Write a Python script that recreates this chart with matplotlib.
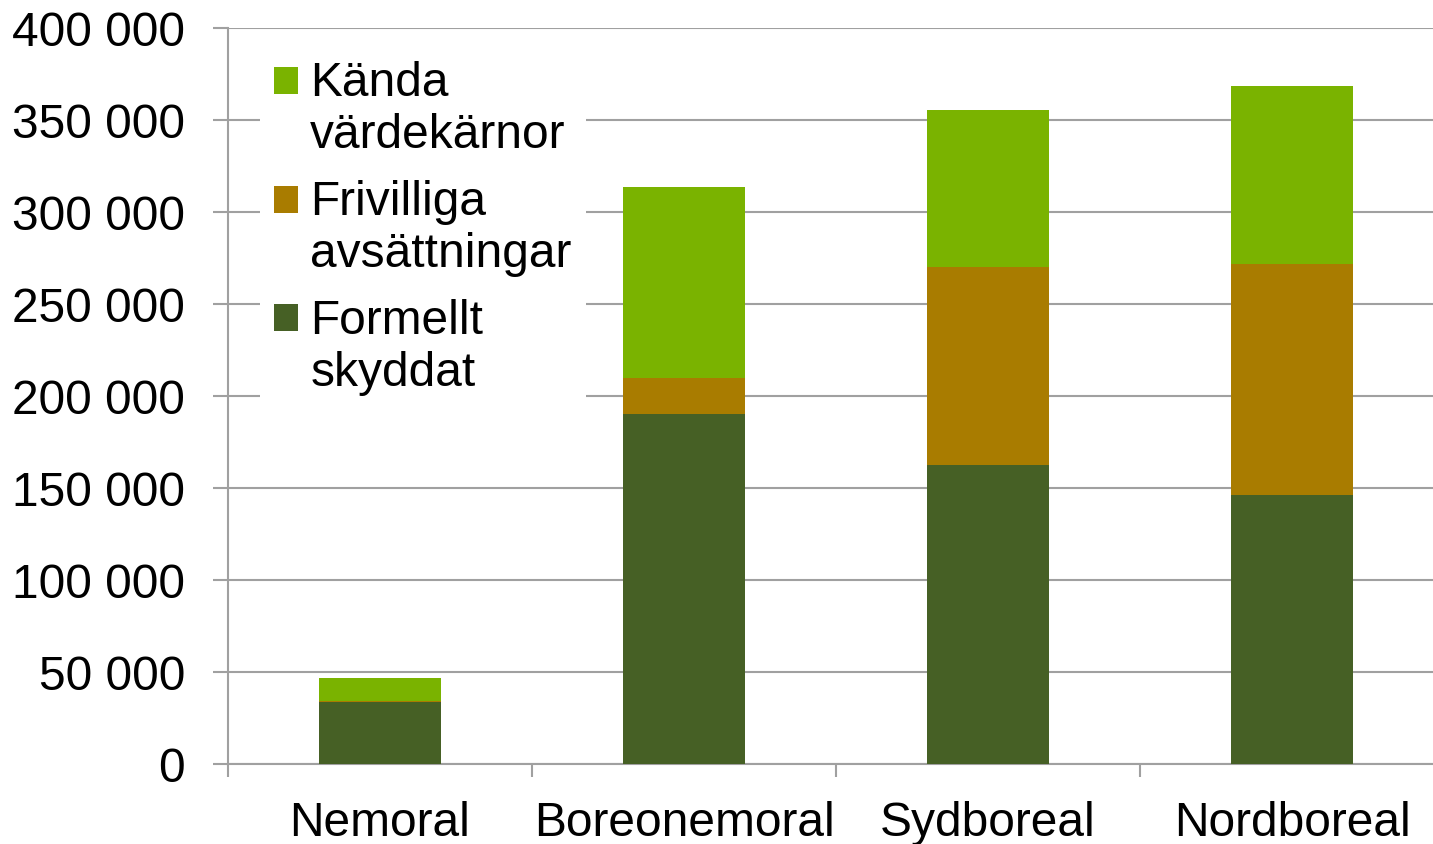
import numpy as np
import matplotlib
matplotlib.use('Agg')
import matplotlib.pyplot as plt
from matplotlib.ticker import FuncFormatter
from matplotlib.patches import Rectangle
from matplotlib.container import BarContainer
from matplotlib.legend_handler import HandlerPatch, update_from_first_child

categories = ['Nemoral', 'Boreonemoral', 'Sydboreal', 'Nordboreal']
formellt = [33700, 190200, 162500, 146200]
frivilliga = [600, 19600, 107600, 125500]
kanda = [12400, 103800, 85300, 96800]

c_formellt = '#466025'
c_frivilliga = '#A97C00'
c_kanda = '#7AB300'

plt.rcParams['font.family'] = ['Liberation Sans', 'DejaVu Sans']
FS = 34.5

fig = plt.figure(figsize=(14.33, 8.45), dpi=100)
ax = fig.add_axes([228 / 1433, 1 - 765 / 845, 1216 / 1433, 736 / 845])

x = np.arange(len(categories))
w = 0.4
formellt = np.array(formellt)
frivilliga = np.array(frivilliga)
kanda = np.array(kanda)

ax.bar(x, formellt, w, color=c_formellt, label='Formellt\nskyddat', zorder=3)
ax.bar(x, frivilliga, w, bottom=formellt, color=c_frivilliga,
       label='Frivilliga\navsättningar', zorder=3)
ax.bar(x, kanda, w, bottom=formellt + frivilliga, color=c_kanda,
       label='Kända\nvärdekärnor', zorder=3)

ax.set_xlim(-0.5, 3.5)
ax.set_ylim(0, 400000)
ax.set_yticks(np.arange(0, 400001, 50000))
ax.yaxis.set_major_formatter(FuncFormatter(lambda v, p: f'{int(v):,}'.replace(',', ' ')))
ax.yaxis.grid(True, color='#A0A0A0', lw=1.5, zorder=0)

# category ticks between bars, labels centered
ax.set_xticks(np.arange(-0.5, 4.0, 1.0))
ax.set_xticklabels([])
ax.set_xticks(x, minor=True)
ax.set_xticklabels(categories, minor=True)
ax.tick_params(axis='x', which='minor', length=0, pad=26, labelsize=FS)
ax.tick_params(axis='x', which='major', length=9.5, width=1.5, color='#A0A0A0')
ax.tick_params(axis='y', length=11, width=1.5, color='#A0A0A0', labelsize=FS, pad=20)

for s in ['top', 'right']:
    ax.spines[s].set_visible(False)
ax.spines['left'].set_color('#A0A0A0')
ax.spines['bottom'].set_color('#A0A0A0')
ax.spines['left'].set_linewidth(1.5)
ax.spines['bottom'].set_linewidth(1.5)


# square handle next to the first line of a two-line label
def top_square(legend, orig_handle, xdescent, ydescent, width, height, fontsize):
    return Rectangle((-xdescent, -ydescent + 0.6 * fontsize), width, height)


h, l = ax.get_legend_handles_labels()
leg = fig.legend(h[::-1], l[::-1], loc='upper left', bbox_to_anchor=(260 / 1433, 1 - 47 / 845),
                 fontsize=FS, frameon=True, fancybox=False, edgecolor='none',
                 framealpha=1, handlelength=0.5, handleheight=0.5,
                 handletextpad=0.25, labelspacing=0.45, borderpad=0.3,
                 borderaxespad=0,
                 handler_map={BarContainer: HandlerPatch(patch_func=top_square,
                                                         update_func=update_from_first_child)})
leg.set_zorder(5)
for t in leg.get_texts():
    t.set_linespacing(1.2)

fig.savefig('out.png', dpi=100)
